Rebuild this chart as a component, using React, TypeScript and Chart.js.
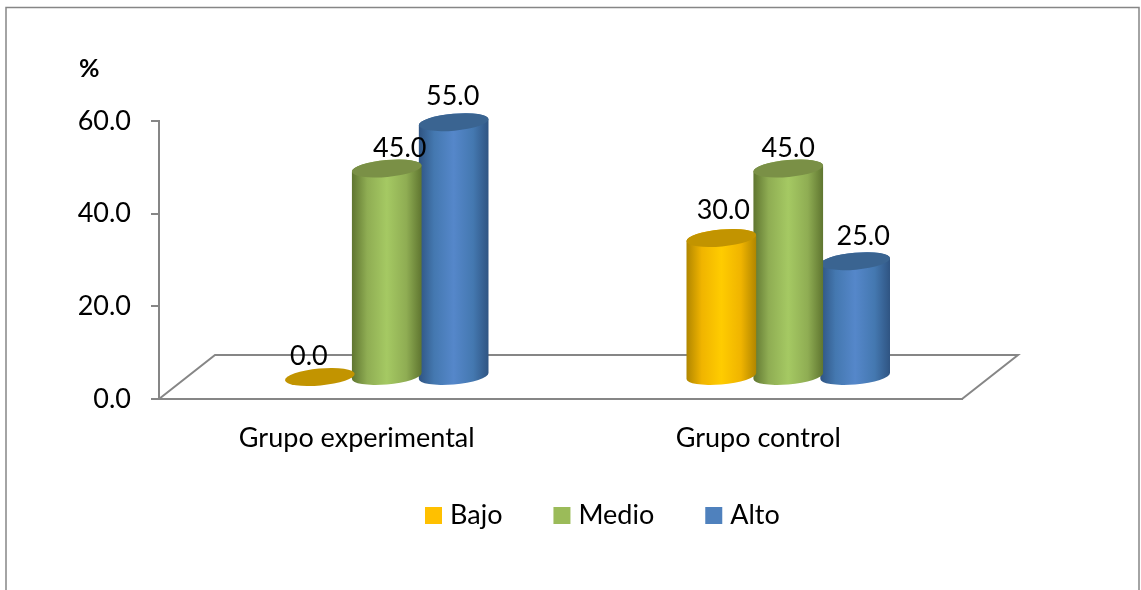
import React, { useEffect, useRef } from "react";
import { Chart, registerables } from "chart.js";

Chart.register(...registerables);

const categories = ["Grupo experimental", "Grupo control"];
const seriesNames = ["Bajo", "Medio", "Alto"];
const bajo = [0, 30];
const medio = [45, 45];
const alto = [55, 25];
const yTicksMax = 60;
const yStep = 20;
const axisTitle = "%";

const FONT = "Lato, Carlito, Calibri, sans-serif";
const GRAY = "#868686";
const DEPTH_X = 56;
const DEPTH_Y = 44;
const SHIFT_X = 27;
const SHIFT_Y = 22;
const RY = 8.5;
const TILT = -0.09;
const FS = 27;
const LEGEND_PAD = 56.5;

const swatch = ["#FFC000", "#9BBB59", "#4F81BD"];
const lids = ["#C29400", "#7A9046", "#3A6491"];
const ramps = [
  ["#B08600", "#F0B400", "#FFCC00", "#F0B400", "#B08600"],
  ["#5F7530", "#8FAD53", "#A5C963", "#8FAD53", "#5F7530"],
  ["#2F5482", "#4478B0", "#5587CA", "#4478B0", "#2F5482"],
];
// hand placed label offsets of the source [dx, dy] per series and category
const labelNudges = [
  [[-11, -12], [2, -19]],
  [[13, -12], [0, -12]],
  [[-1, -17], [8, -16]],
];

const cylinders = {
  id: "cylinders",
  beforeDraw(chart: any) {
    const { ctx, chartArea: a } = chart;
    ctx.save();
    ctx.strokeStyle = GRAY;
    ctx.lineWidth = 1.5;
    ctx.beginPath();
    ctx.moveTo(6, 700);
    ctx.lineTo(6, 7.5);
    ctx.lineTo(1139, 7.5);
    ctx.lineTo(1139, 700);
    ctx.stroke();
    ctx.lineWidth = 2;
    ctx.beginPath();
    ctx.moveTo(a.left, a.bottom);
    ctx.lineTo(a.left + DEPTH_X, a.bottom - DEPTH_Y);
    ctx.lineTo(a.right + DEPTH_X, a.bottom - DEPTH_Y);
    ctx.lineTo(a.right, a.bottom);
    ctx.stroke();
    ctx.restore();
  },
  beforeDatasetDraw(chart: any, args: any) {
    const { ctx } = chart;
    const i = args.index;
    const meta = chart.getDatasetMeta(i);
    meta.data.forEach((el: any) => {
      const rx = el.width / 2;
      const cx = el.x + SHIFT_X;
      const top = el.y - SHIFT_Y;
      const base = el.base - SHIFT_Y;
      ctx.save();
      if (base - top > 0.5) {
        const t = Math.atan2(-RY * Math.sin(TILT), rx * Math.cos(TILT));
        const g = ctx.createLinearGradient(cx - rx, 0, cx + rx, 0);
        [0, 0.22, 0.5, 0.78, 1].forEach((s, k) => g.addColorStop(s, ramps[i][k]));
        ctx.fillStyle = g;
        ctx.beginPath();
        ctx.ellipse(cx, base, rx, RY, TILT, t, t + Math.PI, false);
        ctx.ellipse(cx, top, rx, RY, TILT, t + Math.PI, t, false);
        ctx.closePath();
        ctx.fill();
      }
      ctx.fillStyle = lids[i];
      ctx.beginPath();
      ctx.ellipse(cx, top, rx, RY, TILT, 0, Math.PI * 2);
      ctx.fill();
      ctx.restore();
    });
    return false;
  },
  afterDatasetsDraw(chart: any) {
    const { ctx } = chart;
    ctx.save();
    ctx.fillStyle = "#000";
    ctx.textAlign = "center";
    ctx.textBaseline = "alphabetic";
    ctx.font = `${FS}px ${FONT}`;
    chart.data.datasets.forEach((ds: any, i: number) => {
      chart.getDatasetMeta(i).data.forEach((el: any, j: number) => {
        const [dx, dy] = labelNudges[i][j];
        ctx.fillText(ds.data[j].toFixed(1), el.x + SHIFT_X + dx, el.y - SHIFT_Y + dy);
      });
    });
    ctx.textAlign = "left";
    ctx.font = `bold 25px ${FONT}`;
    ctx.fillText(axisTitle, 79, 77);
    ctx.restore();
  },
  afterLayout(chart: any) {
    const l = chart.legend;
    l.left = 430.5 - LEGEND_PAD;
    l.right = l.left + l.width;
    l.top = 515.5 - LEGEND_PAD - FS / 2;
    l.bottom = l.top + l.height;
  },
};

export default function App() {
  const ref = useRef<HTMLCanvasElement>(null);
  useEffect(() => {
    const series = [bajo, medio, alto];
    const chart = new Chart(ref.current as HTMLCanvasElement, {
      type: "bar",
      data: {
        labels: categories,
        datasets: seriesNames.map((name, i) => ({
          label: name,
          data: series[i],
          backgroundColor: swatch[i],
          borderWidth: 0,
          categoryPercentage: 0.5,
          barPercentage: 1.045,
        })),
      },
      options: {
        animation: false,
        responsive: false,
        devicePixelRatio: 1,
        layout: { padding: { top: 121, right: 179, left: 0, bottom: 0 } },
        plugins: {
          tooltip: { enabled: false },
          legend: {
            position: "bottom",
            align: "start",
            labels: {
              boxWidth: 6,
              boxHeight: 6,
              padding: LEGEND_PAD,
              color: "#000",
              font: { family: FONT, size: FS },
              generateLabels: (chart: any) =>
                Chart.defaults.plugins.legend.labels.generateLabels(chart).map((item: any) => ({
                  ...item,
                  strokeStyle: item.fillStyle,
                  lineWidth: 11,
                })),
            },
          },
        },
        scales: {
          x: {
            grid: { display: false },
            border: { color: GRAY, width: 2 },
            afterFit(s: any) {
              s.height = 191 - (s.chart.legend ? s.chart.legend.height : 0);
            },
            ticks: { color: "#000", padding: 15, labelOffset: -3, font: { family: FONT, size: FS }, maxRotation: 0 },
          },
          y: {
            min: 0,
            max: yTicksMax,
            afterFit(s: any) {
              s.width = 159;
            },
            grid: { drawOnChartArea: false, drawTicks: true, tickLength: 8, color: GRAY, lineWidth: 2 },
            border: { color: GRAY, width: 2 },
            ticks: {
              stepSize: yStep,
              color: "#000",
              padding: 20,
              font: { family: FONT, size: FS },
              callback: (v: any) => Number(v).toFixed(1),
            },
          },
        },
      },
      plugins: [cylinders],
    } as any);
    return () => chart.destroy();
  }, []);
  return (
    <div style={{ position: "fixed", left: 0, top: 0, width: 1141, height: 590, background: "#fff" }}>
      <canvas ref={ref} width={1141} height={590} style={{ display: "block" }} />
    </div>
  );
}
